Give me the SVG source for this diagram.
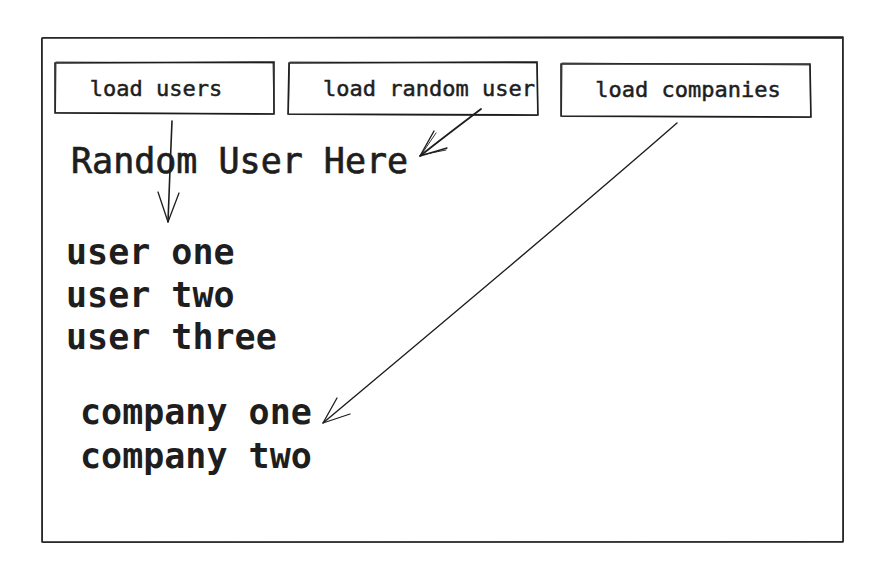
<svg xmlns="http://www.w3.org/2000/svg" width="881" height="580" viewBox="0 0 881 580">
<style>
.s{fill:none;stroke:#1e1e1e;stroke-linecap:round;stroke-linejoin:round}
.box{fill:#ffffff;stroke:#1e1e1e;stroke-width:1.6;stroke-linecap:round}
.btn{font-family:"DejaVu Sans Mono","Liberation Mono",monospace;font-size:22px;fill:#1e1e1e;stroke:#1e1e1e;stroke-width:0.5;text-anchor:middle}
.big{font-family:"DejaVu Sans Mono","Liberation Mono",monospace;font-size:35px;fill:#1e1e1e}
.m{stroke:#1e1e1e;stroke-width:0.7}
.b{font-weight:bold}
</style>
<rect width="881" height="580" fill="#ffffff"/>
<g id="frame">
<path class="s" stroke-width="1.6" d="M42 38 L843 37 L843 542 L42 542 Z"/>
<path class="s" stroke-width="0.8" d="M43 37.5 L842 38.5 M842.5 39 L843.5 541 M842 541.5 L43 542.5 M42.5 541 L41.5 39"/>
</g>
<g id="btn-load-users">
<path class="box" d="M55 63 L274 62 L274 114 L55 113 Z"/>
<path class="s" stroke-width="0.8" d="M56 62 L273 63 M273 63 L274 113 M273 114 L56 112.5 M55.5 112 L56 64"/>
<text class="btn" x="156" y="96">load users</text>
</g>
<g id="btn-load-random-user">
<path class="box" d="M289 63 L537 62 L538 115 L288 114 Z"/>
<path class="s" stroke-width="0.8" d="M290 62 L536 63 M537 63 L537.5 114 M537 115.5 L289 114.5 M288.5 113 L289.5 64"/>
<text class="btn" x="429" y="96">load random user</text>
</g>
<g id="btn-load-companies">
<path class="box" d="M561 64 L810 64 L811 117 L561 116 Z"/>
<path class="s" stroke-width="0.8" d="M562 63 L809 65 M810 65 L810.5 116 M810 117.5 L562 116.5 M561.5 115 L562 65"/>
<text class="btn" x="688" y="97">load companies</text>
</g>
<g id="random-user">
<text class="big m" x="71" y="173">Random User Here</text>
</g>
<g id="users">
<text class="big b" x="66" y="264">user one</text>
<text class="big b" x="66" y="307">user two</text>
<text class="big b" x="66" y="349">user three</text>
</g>
<g id="companies">
<text class="big b" x="80" y="424">company one</text>
<text class="big b" x="80" y="468">company two</text>
</g>
<g id="connectors">
<path class="s" stroke-width="1.6" d="M172 121 C171 150 169 190 168 222"/>
<path class="s" stroke-width="1.3" d="M158 192 L168 222 L179 193"/>
<path class="s" stroke-width="1.8" d="M481 109 C460 125 440 140 420 156"/>
<path class="s" stroke-width="1.4" d="M434 131 L420 156 L447 148"/>
<path class="s" stroke-width="0.9" d="M436 133 L421 155 L446 150"/>
<path class="s" stroke-width="1.4" d="M677 123 C560 225 440 325 323 423"/>
<path class="s" stroke-width="1.3" d="M337 398 L323 423 L350 414"/>
</g>
</svg>
